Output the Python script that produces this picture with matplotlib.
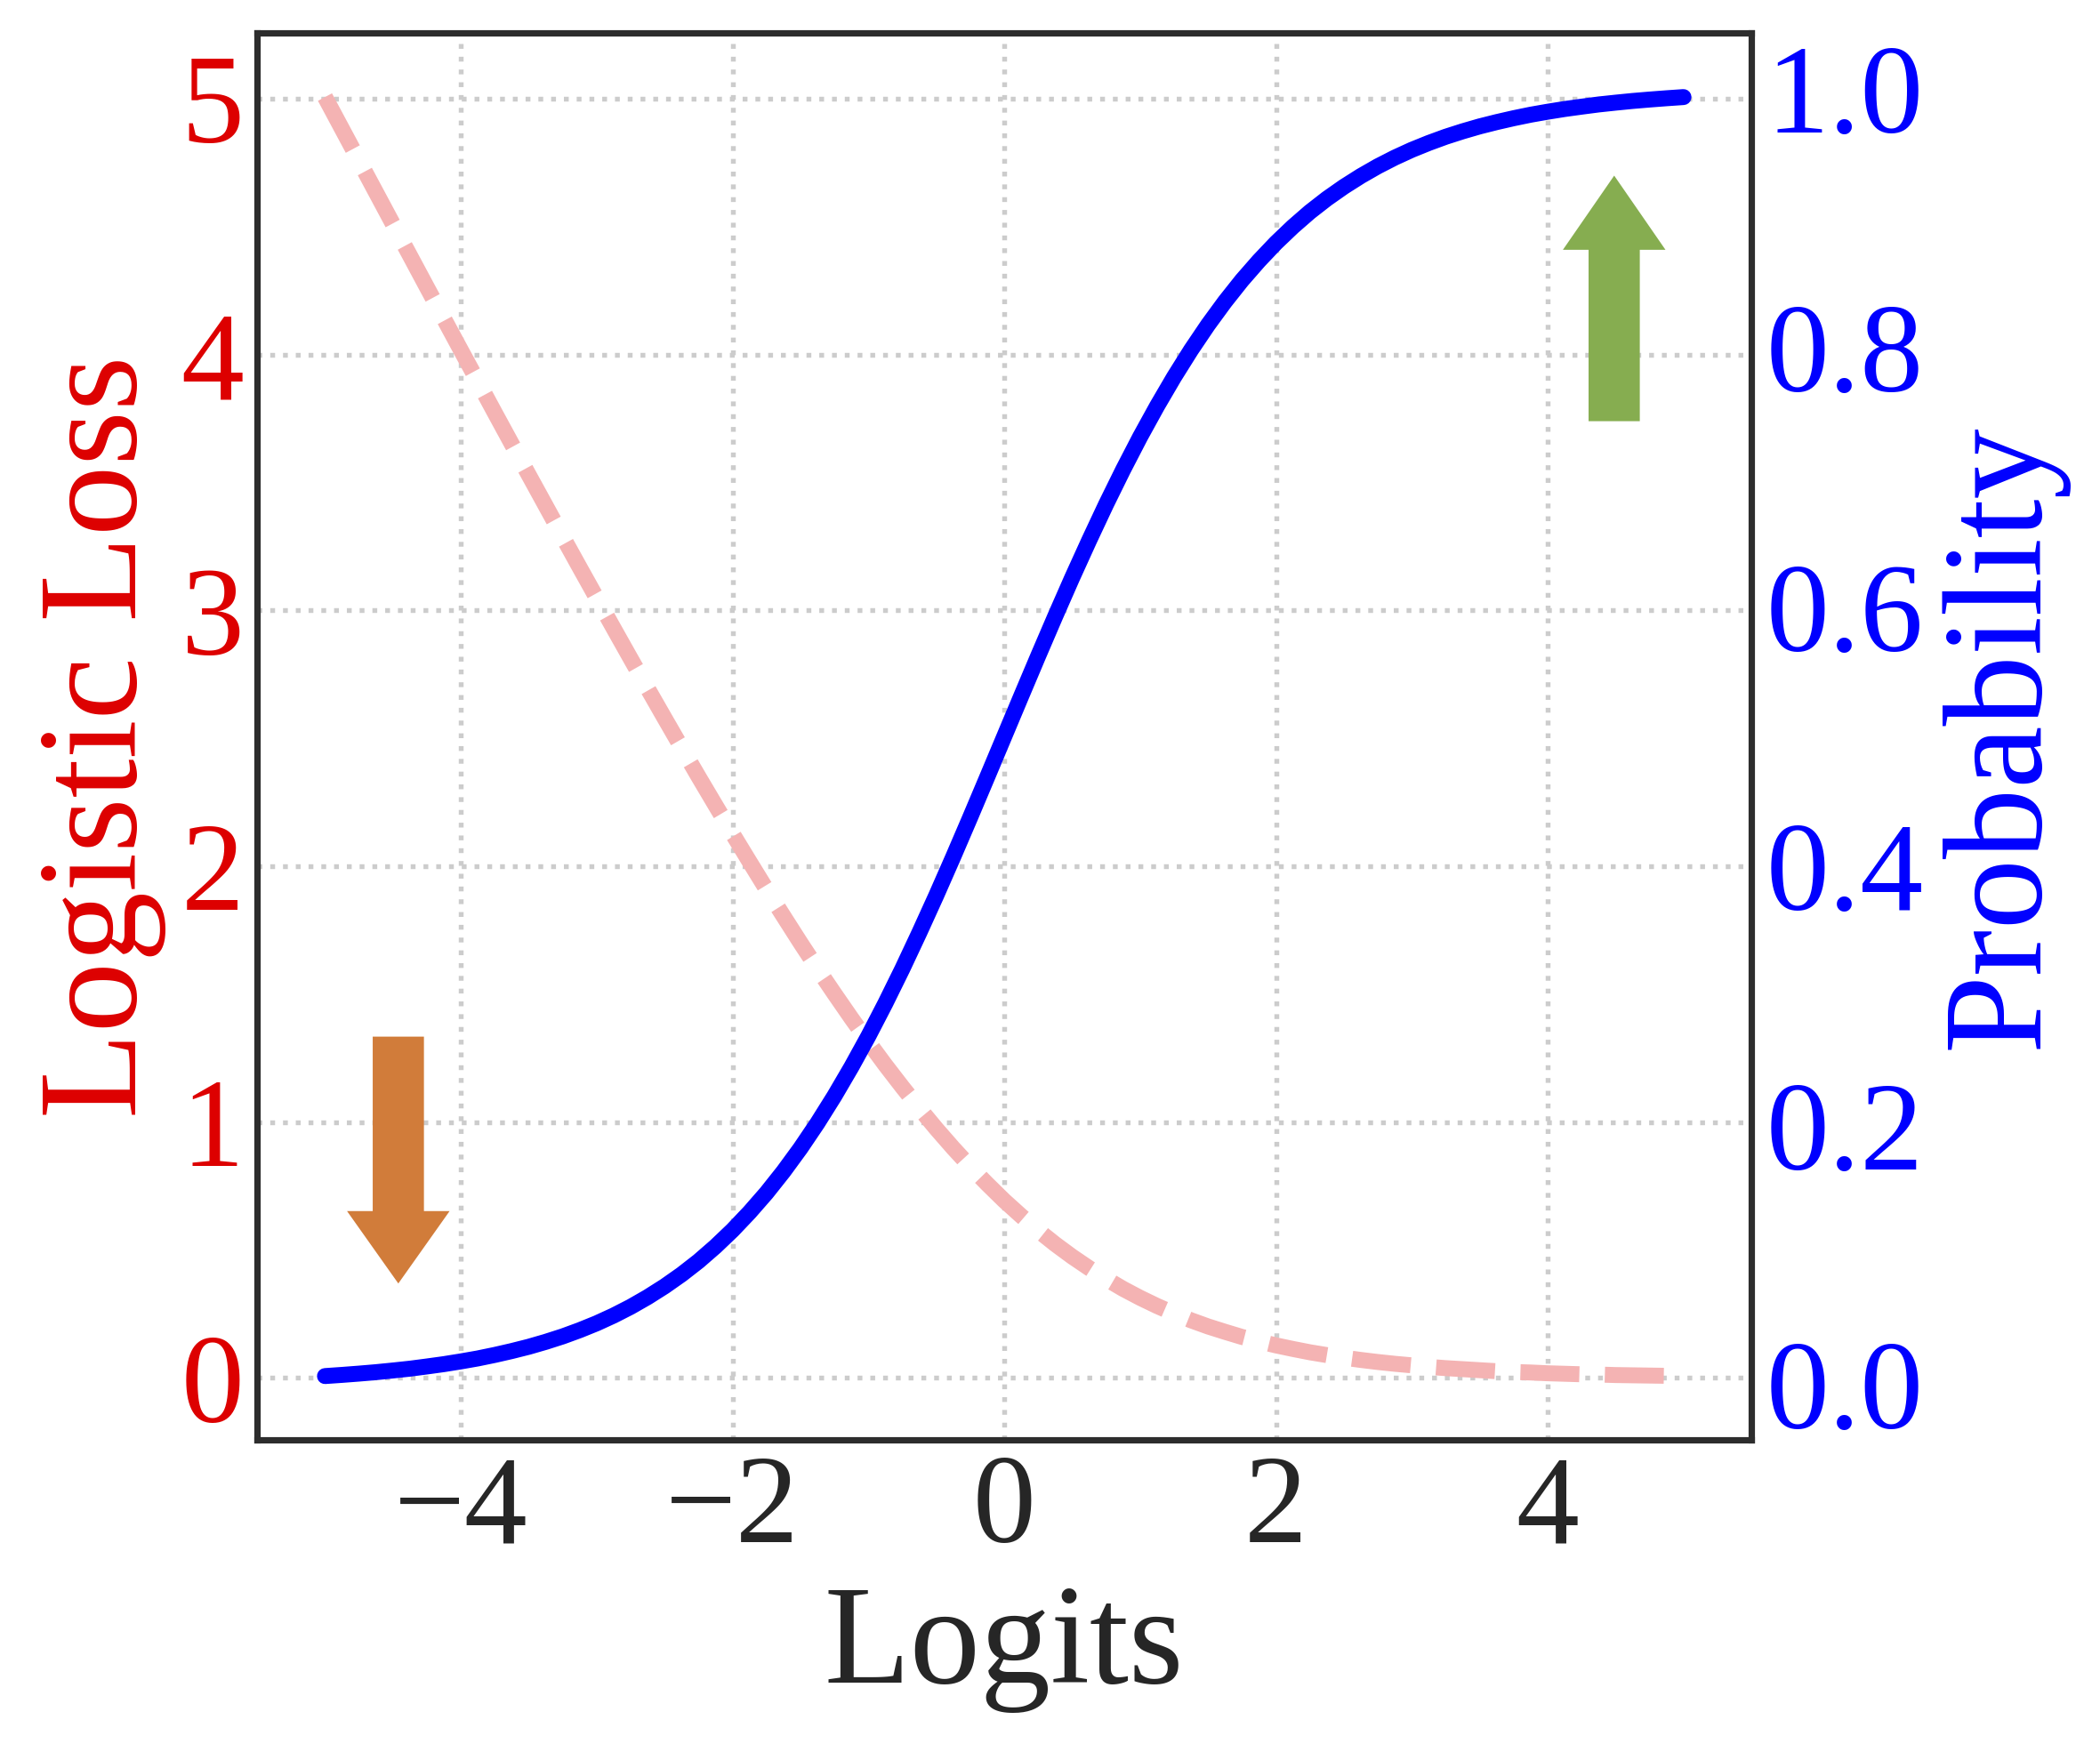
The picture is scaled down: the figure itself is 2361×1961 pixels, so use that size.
import matplotlib
matplotlib.use("Agg")
import matplotlib.pyplot as plt
import numpy as np

plt.rcParams['font.family'] = ['Liberation Serif', 'DejaVu Serif']
plt.rcParams['axes.unicode_minus'] = True

# values, x from -5 to 5 in steps of 0.125
logits = np.linspace(-5, 5, 81)
loss = [5.007, 4.883, 4.759, 4.635, 4.511, 4.388, 4.264, 4.141, 4.018, 3.896,
        3.773, 3.651, 3.530, 3.409, 3.288, 3.168, 3.049, 2.930, 2.812, 2.695,
        2.579, 2.464, 2.350, 2.238, 2.127, 2.018, 1.910, 1.805, 1.701, 1.600,
        1.502, 1.406, 1.313, 1.223, 1.137, 1.054, 0.974, 0.898, 0.826, 0.758,
        0.693, 0.633, 0.576, 0.523, 0.474, 0.429, 0.387, 0.348, 0.313, 0.281,
        0.252, 0.225, 0.201, 0.180, 0.160, 0.143, 0.127, 0.113, 0.100, 0.089,
        0.079, 0.070, 0.062, 0.055, 0.049, 0.043, 0.038, 0.034, 0.030, 0.026,
        0.023, 0.021, 0.018, 0.016, 0.014, 0.013, 0.011, 0.010, 0.009, 0.008,
        0.007]
prob = [0.0067, 0.0076, 0.0086, 0.0097, 0.0110, 0.0124, 0.0141, 0.0159, 0.0180, 0.0203,
        0.0230, 0.0260, 0.0293, 0.0331, 0.0373, 0.0421, 0.0474, 0.0534, 0.0601, 0.0676,
        0.0759, 0.0851, 0.0953, 0.1067, 0.1192, 0.1330, 0.1480, 0.1645, 0.1824, 0.2018,
        0.2227, 0.2451, 0.2689, 0.2942, 0.3208, 0.3487, 0.3775, 0.4073, 0.4378, 0.4688,
        0.5000, 0.5312, 0.5622, 0.5927, 0.6225, 0.6513, 0.6792, 0.7058, 0.7311, 0.7549,
        0.7773, 0.7982, 0.8176, 0.8355, 0.8520, 0.8670, 0.8808, 0.8933, 0.9047, 0.9149,
        0.9241, 0.9324, 0.9399, 0.9466, 0.9526, 0.9579, 0.9627, 0.9669, 0.9707, 0.9740,
        0.9770, 0.9797, 0.9820, 0.9841, 0.9859, 0.9876, 0.9890, 0.9903, 0.9914, 0.9924,
        0.9933]

x_ticks = [-4, -2, 0, 2, 4]
loss_ticks = [0, 1, 2, 3, 4, 5]
prob_ticks = [0.0, 0.2, 0.4, 0.6, 0.8, 1.0]

red = '#DD0000'
blue = '#0000FF'
dark = '#262626'

fig = plt.figure(figsize=(2361 / 300, 1961 / 300), dpi=300)
ax = fig.add_axes([0.1224, 0.1743, 0.834 - 0.1224, 0.981 - 0.1743])
ax2 = ax.twinx()

ax.plot(logits, loss, color='#F4B3B3', lw=4.3, ls='--', zorder=2)
ax2.plot(logits, prob, color=blue, lw=4.3, solid_capstyle='round', zorder=3)

# arrows
ax.arrow(-4.46, 1.334, 0, -0.965, width=0.377, head_width=0.755, head_length=0.283,
         length_includes_head=True, color='#D17C3A', lw=0, zorder=3)
ax.arrow(4.49, 3.74, 0, 0.96, width=0.377, head_width=0.755, head_length=0.29,
         length_includes_head=True, color='#86AD50', lw=0, zorder=3)

ax.set_xticks(x_ticks)
ax.set_yticks(loss_ticks)
ax2.set_yticks(prob_ticks)
ax2.set_yticklabels(['%.1f' % v for v in prob_ticks])

ax.grid(True, color='#CCCCCC', ls=':', lw=1.3)
ax.set_axisbelow(True)

ax.tick_params(axis='x', colors=dark, labelsize=34, length=0, pad=4)
ax.tick_params(axis='y', colors=red, labelsize=34, length=0, pad=3.5)
ax2.tick_params(axis='y', colors=blue, labelsize=34, length=0, pad=4)

ax.set_xlabel('Logits', fontsize=38, color=dark, labelpad=4)
ax.set_ylabel('Logistic Loss', fontsize=38, color=red, labelpad=4)
ax2.set_ylabel('Probability', fontsize=38, color=blue, labelpad=4)

for a in (ax, ax2):
    for s in a.spines.values():
        s.set_color('#2D2D2D')
        s.set_linewidth(1.7)

fig.savefig('out.png', dpi=300)
